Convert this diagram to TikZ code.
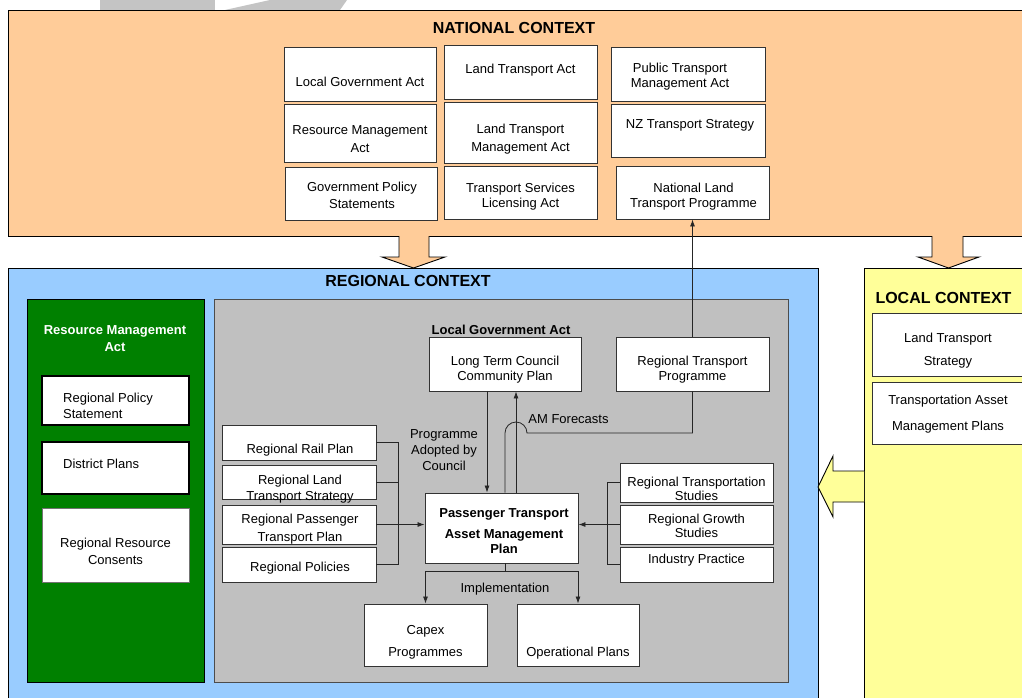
\documentclass[tikz,border=0pt]{standalone}
\usepackage{fontspec}
\setmainfont{Liberation Sans}
\usetikzlibrary{arrows.meta}

\definecolor{natorange}{HTML}{FFCC99}
\definecolor{regblue}{HTML}{99CCFF}
\definecolor{rmagreen}{HTML}{008000}
\definecolor{lgagray}{HTML}{C0C0C0}
\definecolor{locyellow}{HTML}{FFFF99}
\definecolor{wmgray}{HTML}{C4C4C4}

\tikzset{
  box/.style={draw=black!80, line width=0.9pt, fill=white, inner sep=0pt},
  txt/.style={align=center, font=\fontsize{13}{15}\selectfont, inner sep=0pt, yshift=-2pt},
  btxt/.style={txt, font=\bfseries\fontsize{13}{15}\selectfont},
  ttl/.style={inner sep=0pt, font=\bfseries\fontsize{16}{18}\selectfont},
  con/.style={line width=0.8pt, draw=black!85},
  arr/.style={con, -{Latex[length=7pt,width=5pt]}},
  blk/.style={draw=black, line width=0.9pt, line join=miter}
}

\begin{document}
\begin{tikzpicture}[x=1pt,y=-1pt]
  \useasboundingbox (0,0) rectangle (1022,698);
  %watermark
  \fill[wmgray] (100,0) rectangle (215,10);
  \fill[wmgray] (225,10) -- (270,0) -- (347,0) -- (340,10) -- cycle;

  % context frames
  \draw[fill=natorange, line width=0.8pt] (8,10) rectangle (1030,236);
  \draw[fill=regblue, line width=0.8pt] (8,268) rectangle (818,705);
  \draw[fill=locyellow, line width=0.8pt] (864,268) rectangle (1030,705);
  \draw[fill=rmagreen, line width=0.8pt] (27,299) rectangle (204,682);
  \draw[fill=lgagray, draw=black!70, line width=0.8pt] (214,299) rectangle (788,682);

  % block arrows
  \draw[blk, fill=natorange] (399,236) -- (399,257) -- (382,257) -- (413.5,268) -- (445,257) -- (429,257) -- (429,236);
  \draw[blk, fill=natorange] (932,236) -- (932,257) -- (918,257) -- (948.5,268) -- (979,257) -- (963,257) -- (963,236);
  \draw[blk, fill=locyellow] (864,471) -- (833,471) -- (833,456) -- (818,487) -- (833,517) -- (833,502) -- (864,502);

  \node[ttl] (natt) at (514,28) {NATIONAL CONTEXT};
  \node[ttl] (regt) at (408,281) {REGIONAL CONTEXT};
  \node[ttl] (loct) at (943.5,297.5) {LOCAL CONTEXT};

  % national
  \node[box, minimum width=152, minimum height=54] (lga) at (360,74) {};
  \node[txt] (lgat) at (360,79.5) {Local Government Act};
  \node[box, minimum width=153, minimum height=54] (lta) at (520.5,72) {};
  \node[txt] (ltat) at (520.5,68) {Land Transport Act};
  \node[box, minimum width=154, minimum height=54] (ptma) at (688,74) {};
  \node[txt] (ptmat) at (680,75) {Public Transport\\Management Act};
  \node[box, minimum width=152, minimum height=58] (rma) at (360,133) {};
  \node[txt] (rmat) at (360,137) {Resource Management\\[3pt]Act};
  \node[box, minimum width=153, minimum height=61] (ltma) at (520.5,132.5) {};
  \node[txt] (ltmat) at (520.5,137) {Land Transport\\[3pt]Management Act};
  \node[box, minimum width=154, minimum height=53] (nzts) at (688,130.5) {};
  \node[txt] (nztst) at (690,123) {NZ Transport Strategy};
  \node[box, minimum width=152, minimum height=53] (gps) at (361,193.5) {};
  \node[txt] (gpst) at (362,193.5) {Government Policy\\[2pt]Statements};
  \node[box, minimum width=153, minimum height=53] (tsla) at (520.5,192.5) {};
  \node[txt] (tslat) at (520.5,195) {Transport Services\\Licensing Act};
  \node[box, minimum width=153, minimum height=53] (nltp) at (692.5,192.5) {};
  \node[txt] (nltpt) at (693.5,195) {National Land\\Transport Programme};

  % resource management act
  \node[txt, text=white, font=\bfseries\fontsize{13}{17}\selectfont] (rmagt) at (115,336.5) {Resource Management\\Act};
  \node[box, draw=black, line width=1.8pt, minimum width=147, minimum height=49] (rps) at (115.5,400.5) {};
  \node[txt, align=left, anchor=west] (rpst) at (63,404) {Regional Policy\\[1pt]Statement};
  \node[box, draw=black, line width=1.8pt, minimum width=147, minimum height=52] (dp) at (115.5,468) {};
  \node[txt, anchor=west] (dpt) at (63,462) {District Plans};
  \node[box, draw=black!55, minimum width=147, minimum height=74] (rrc) at (115.5,545) {};
  \node[txt] (rrct) at (115.5,549.5) {Regional Resource\\[2pt]Consents};

  % regional plans
  \node[box, minimum width=154, minimum height=35] (rrp) at (299,442.5) {};
  \node[txt] (rrpt) at (300,448) {Regional Rail Plan};
  \node[box, minimum width=154, minimum height=34] (rlts) at (299,482) {};
  \node[txt] (rltst) at (300,487) {Regional Land\\[1pt]Transport Strategy};
  \node[box, minimum width=154, minimum height=39] (rptp) at (299,524.5) {};
  \node[txt] (rptpt) at (300,527) {Regional Passenger\\[3pt]Transport Plan};
  \node[box, minimum width=154, minimum height=35] (rpol) at (299,564.5) {};
  \node[txt] (rpolt) at (300,566) {Regional Policies};

  \node[btxt] (lgal) at (501,328) {Local Government Act};
  \node[box, minimum width=152, minimum height=54] (ltccp) at (505,364) {};
  \node[txt] (ltccpt) at (505,367.5) {Long Term Council\\Community Plan};
  \node[box, minimum width=153, minimum height=54] (rtp) at (692.5,364) {};
  \node[txt] (rtpt) at (692.5,367.5) {Regional Transport\\Programme};
  \node[box, minimum width=153, minimum height=70] (ptamp) at (501.5,528) {};
  \node[btxt] (ptampt) at (504,529) {Passenger Transport\\[6pt]Asset Management\\Plan};

  \node[box, minimum width=153, minimum height=39] (rts) at (696.5,482.5) {};
  \node[txt] (rtst) at (696.5,487) {Regional Transportation\\[-1pt]Studies};
  \node[box, minimum width=153, minimum height=39] (rgs) at (696.5,524.5) {};
  \node[txt] (rgst) at (696.5,524) {Regional Growth\\[-1pt]Studies};
  \node[box, minimum width=153, minimum height=35] (ip) at (696.5,564.5) {};
  \node[txt] (ipt) at (696.5,558) {Industry Practice};

  \node[box, minimum width=123, minimum height=62] (capex) at (425.5,635) {};
  \node[txt] (capext) at (425.5,640) {Capex\\[7pt]Programmes};
  \node[box, minimum width=122, minimum height=62] (opp) at (578,635) {};
  \node[txt] (oppt) at (578,651) {Operational Plans};

  \node[txt] (padc) at (444,448) {Programme\\[1pt]Adopted by\\[1pt]Council};
  \node[txt] (amf) at (568.5,417) {AM Forecasts};
  \node[txt] (impl) at (505,587) {Implementation};

  % local
  \node[box, minimum width=152, minimum height=63] (lts) at (948,344.5) {};
  \node[txt] (ltst) at (948,348.5) {Land Transport\\[8pt]Strategy};
  \node[box, minimum width=152, minimum height=62] (tamp) at (948,413) {};
  \node[txt] (tampt) at (948,412) {Transportation Asset\\[11pt]Management Plans};

  % connectors
  \draw[arr] (rtp.north) -- (nltp.south);
  \coordinate (hop) at (527,433);
  \draw[con] (rtp.south) |- (hop) arc (0:-180:11) -- (ltccp.south |- ptamp.north);
  \draw[arr] ([xshift=-18]ltccp.south) -- ([xshift=-18]ltccp.south |- ptamp.north);
  \draw[arr] ([xshift=11]ltccp.south |- ptamp.north) -- ([xshift=11]ltccp.south);

  \draw[con] (rrp.east) -- ++(22,0) coordinate (lbr) |- (rpol.east);
  \draw[con] (rlts.east) -- (rlts.east -| lbr);
  \draw[arr] (rptp.east) -- (rptp.east -| ptamp.west);

  \draw[con] (rts.west) -- ++(-12,0) coordinate (rbr) |- (ip.west);
  \draw[arr] (rgs.west) -- (rgs.west -| ptamp.east);

  \draw[con] ([xshift=3.5]ptamp.south) -- ++(0,8) coordinate (imp);
  \draw[arr] (imp) -| (capex.north);
  \draw[arr] (imp) -| (opp.north);
\end{tikzpicture}
\end{document}
